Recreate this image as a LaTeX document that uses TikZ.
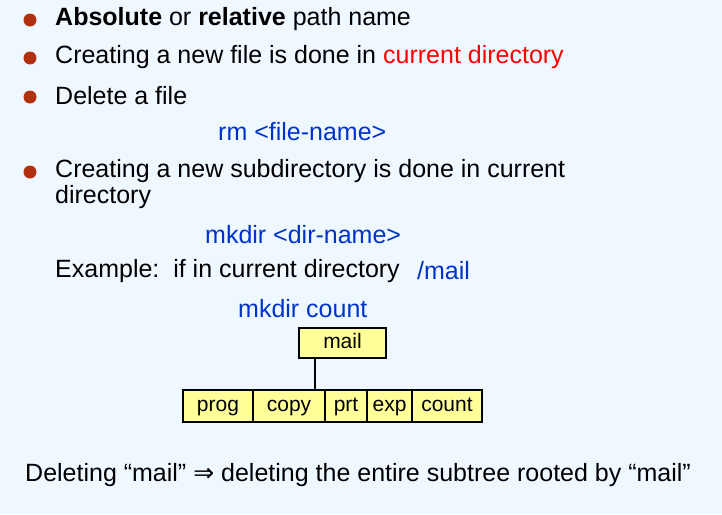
\documentclass[tikz,border=0pt]{standalone}
\usepackage{fontspec}
\setmainfont{Liberation Sans}
\newfontfamily\symf{DejaVu Sans}
\definecolor{bg}{HTML}{F0F8FF}
\definecolor{bul}{HTML}{B03010}
\definecolor{tblue}{HTML}{0033CC}
\definecolor{tred}{HTML}{FF0000}
\definecolor{boxy}{HTML}{FFFF99}
\begin{document}
\begin{tikzpicture}[x=1pt,y=-1pt,
  txt/.style={anchor=west,inner sep=0pt,font=\fontsize{25}{28}\selectfont},
  bul/.style={circle,fill=bul,inner sep=0pt,minimum size=13pt},
  box/.style={draw,line width=1.3pt,fill=boxy,inner sep=0pt,text height=14pt,text depth=4pt,font=\fontsize{21}{24}\selectfont}]
\fill[bg] (0,0) rectangle (722,514);
\useasboundingbox (0,0) rectangle (722,514);
\node[bul] (b1) at (30,20) {};
\node[bul] (b2) at (30,58) {};
\node[bul] (b3) at (30,97) {};
\node[bul] (b4) at (30,172) {};
\node[txt] (t1) at (55,19) {\textbf{Absolute} or \textbf{relative} path name};
\node[txt] (t2) at (55,57) {Creating a new file is done in \textcolor{tred}{current directory}};
\node[txt] (t3) at (55,96) {Delete a file};
\node[txt,text=tblue] (t4) at (218,132) {rm <file-name>};
\node[txt] (t5) at (55,171) {Creating a new subdirectory is done in current};
\node[txt] (t6) at (55,197) {directory};
\node[txt,text=tblue] (t7) at (205,235) {mkdir <dir-name>};
\node[txt] (t8) at (55,271) {Example:\ \ if in current directory};
\node[txt,text=tblue] (t9) at (417,271) {/mail};
\node[txt,text=tblue] (t10) at (238,309) {mkdir count};
\node[txt] (t11) at (25,475) {Deleting “mail” {\symf ⇒} deleting the entire subtree rooted by “mail”};
\node[box,minimum width=87pt,minimum height=30pt] (mail) at (342.5,343) {mail};
\node[box,minimum width=70pt,minimum height=32pt] (prog) at (218,406) {prog};
\node[box,minimum width=72pt,minimum height=32pt] (copy) at (289,406) {copy};
\node[box,minimum width=42pt,minimum height=32pt] (prt) at (346,406) {prt};
\node[box,minimum width=45pt,minimum height=32pt] (exp) at (389.5,406) {exp};
\node[box,minimum width=70pt,minimum height=32pt] (count) at (447,406) {count};
\draw[line width=1.3pt] (mail.south -| 315,0) -- (copy.north -| 315,0);
\end{tikzpicture}
\end{document}
